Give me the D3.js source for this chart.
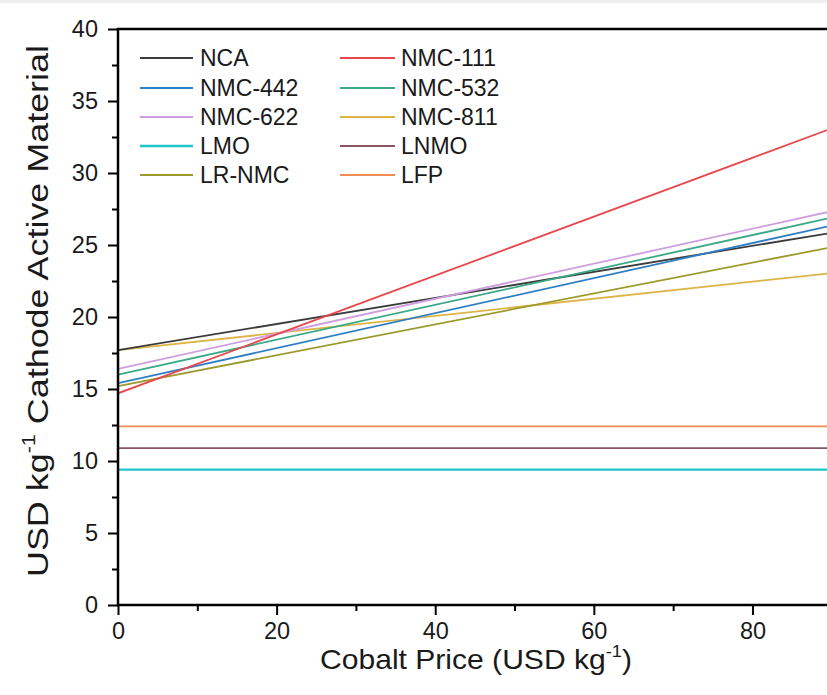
<!DOCTYPE html>
<html>
<head>
<meta charset="utf-8">
<script src="https://cdn.jsdelivr.net/npm/d3@7"></script>
<style>
  html, body { margin: 0; padding: 0; background: #fff; }
  svg { display: block; font-family: "Liberation Sans", Arial, sans-serif; }
</style>
</head>
<body>
<svg id="chart" width="827" height="695"></svg>
<script>
// ---- data ----
const materials = ["NCA","NMC-111","NMC-442","NMC-532","NMC-622","NMC-811","LMO","LNMO","LR-NMC","LFP"];
const cobaltPrices = [0, 90];
const costAtZero = [17.7, 14.7, 15.4, 16.0, 16.4, 17.7, 9.4, 10.9, 15.2, 12.4];
const costAtEnd  = [25.85, 33.1, 26.35, 26.9, 27.35, 23.05, 9.4, 10.9, 24.85, 12.4];
const colors = ["#3c3c3c","#e8474c","#2f7fc4","#3aa985","#cf9ee0","#dcb448","#1fc6c9","#8a5560","#9c9a2c","#f08c55"];
const xTicks = [0, 20, 40, 60, 80];
const yTicks = [0, 5, 10, 15, 20, 25, 30, 35, 40];
const legendCol1 = ["NCA","NMC-442","NMC-622","LMO","LR-NMC"];
const legendCol2 = ["NMC-111","NMC-532","NMC-811","LNMO","LFP"];

(function () {
// ---- layout ----
const svg = d3.select("#chart");
const W = 827;
const mLeft = 118, mTop = 29, mBottom = 605;
const xMax = 89.4;

svg.append("rect").attr("x",0).attr("y",0).attr("width",W).attr("height",3).attr("fill","#efefef");

const x = d3.scaleLinear().domain([0, xMax]).range([mLeft, W]);
const y = d3.scaleLinear().domain([0, 40]).range([mBottom, mTop]);

svg.append("defs").append("clipPath").attr("id","clip")
  .append("rect").attr("x", mLeft).attr("y", mTop).attr("width", W - mLeft).attr("height", mBottom - mTop);

const series = materials.map((m, i) => ({
  name: m, color: colors[i],
  values: cobaltPrices.map((p, j) => ({ x: p, y: j === 0 ? costAtZero[i] : costAtEnd[i] }))
}));

const line = d3.line().x(d => x(d.x)).y(d => y(d.y));
const drawOrder = ["LFP","LNMO","LMO","NMC-811","LR-NMC","NCA","NMC-442","NMC-532","NMC-622","NMC-111"];
svg.append("g").attr("clip-path","url(#clip)")
  .selectAll("path").data(drawOrder.map(n => series.find(s => s.name === n))).join("path")
  .attr("d", d => line(d.values))
  .attr("fill","none")
  .attr("stroke", d => d.color)
  .attr("stroke-width", d => d.name === "LMO" ? 2.4 : 1.8);

// ---- axes ----
const fontTick = 23.5;
const xMinor = d3.range(10, xMax, 20);
const yMinor = d3.range(2.5, 40, 5);

const xAxis = d3.axisBottom(x).tickValues(xTicks).tickSize(10).tickPadding(7).tickFormat(d3.format("d"));
const gx = svg.append("g").attr("transform", `translate(0,${mBottom})`).call(xAxis);
gx.select(".domain").remove();
gx.selectAll(".tick line").attr("stroke","#000").attr("stroke-width",2);
gx.selectAll(".tick text").attr("font-size", fontTick).attr("fill","#1a1a1a").attr("font-family","Liberation Sans, Arial, sans-serif");
svg.append("g").attr("transform", `translate(0,${mBottom})`)
  .call(d3.axisBottom(x).tickValues(xMinor).tickSize(6).tickFormat(""))
  .call(g => g.select(".domain").remove())
  .selectAll(".tick line").attr("stroke","#000").attr("stroke-width",2);

const yAxis = d3.axisLeft(y).tickValues(yTicks).tickSize(10).tickPadding(10).tickFormat(d3.format("d"));
const gy = svg.append("g").attr("transform", `translate(${mLeft},0)`).call(yAxis);
gy.select(".domain").remove();
gy.selectAll(".tick line").attr("stroke","#000").attr("stroke-width",2);
gy.selectAll(".tick text").attr("font-size", fontTick).attr("fill","#1a1a1a").attr("font-family","Liberation Sans, Arial, sans-serif");
svg.append("g").attr("transform", `translate(${mLeft},0)`)
  .call(d3.axisLeft(y).tickValues(yMinor).tickSize(6).tickFormat(""))
  .call(g => g.select(".domain").remove())
  .selectAll(".tick line").attr("stroke","#000").attr("stroke-width",2);

// frame lines (left, bottom, top)
svg.append("line").attr("x1", mLeft).attr("x2", mLeft).attr("y1", mTop - 1).attr("y2", mBottom + 1).attr("stroke","#000").attr("stroke-width",2.5);
svg.append("line").attr("x1", mLeft - 1).attr("x2", W).attr("y1", mBottom).attr("y2", mBottom).attr("stroke","#000").attr("stroke-width",2.5);
svg.append("line").attr("x1", mLeft - 1).attr("x2", W).attr("y1", mTop).attr("y2", mTop).attr("stroke","#000").attr("stroke-width",2.5);

// ---- axis titles ----
const xt = svg.append("text").attr("x", 320).attr("y", 669)
  .attr("font-size", 28).attr("fill","#1a1a1a")
  .attr("textLength", 312).attr("lengthAdjust", "spacingAndGlyphs");
xt.append("tspan").text("Cobalt Price (USD kg");
xt.append("tspan").attr("font-size", 17).attr("dy", -12).text("-1");
xt.append("tspan").attr("dy", 12).text(")");

const yt = svg.append("text").attr("transform", `translate(48,577) rotate(-90)`)
  .attr("font-size", 30).attr("fill","#1a1a1a")
  .attr("textLength", 532).attr("lengthAdjust", "spacingAndGlyphs");
yt.append("tspan").text("USD kg");
yt.append("tspan").attr("font-size", 18).attr("dy", -13).text("-1");
yt.append("tspan").attr("dy", 13).text(" Cathode Active Material");

// ---- legend ----
const legendRowsY = [58, 88, 117, 146, 175];
const legend = svg.append("g");
[[legendCol1, 140, 193, 200], [legendCol2, 340, 395, 401]].forEach(([names, x1, x2, tx]) => {
  names.forEach((n, i) => {
    const s = series.find(d => d.name === n);
    legend.append("line").attr("x1", x1).attr("x2", x2).attr("y1", legendRowsY[i]).attr("y2", legendRowsY[i])
      .attr("stroke", s.color).attr("stroke-width", n === "LMO" ? 2.4 : 1.8);
    legend.append("text").attr("x", tx).attr("y", legendRowsY[i]).attr("dy","0.36em")
      .attr("font-size", 23).attr("fill","#1a1a1a").text(n);
  });
});
})();
</script>
</body>
</html>
